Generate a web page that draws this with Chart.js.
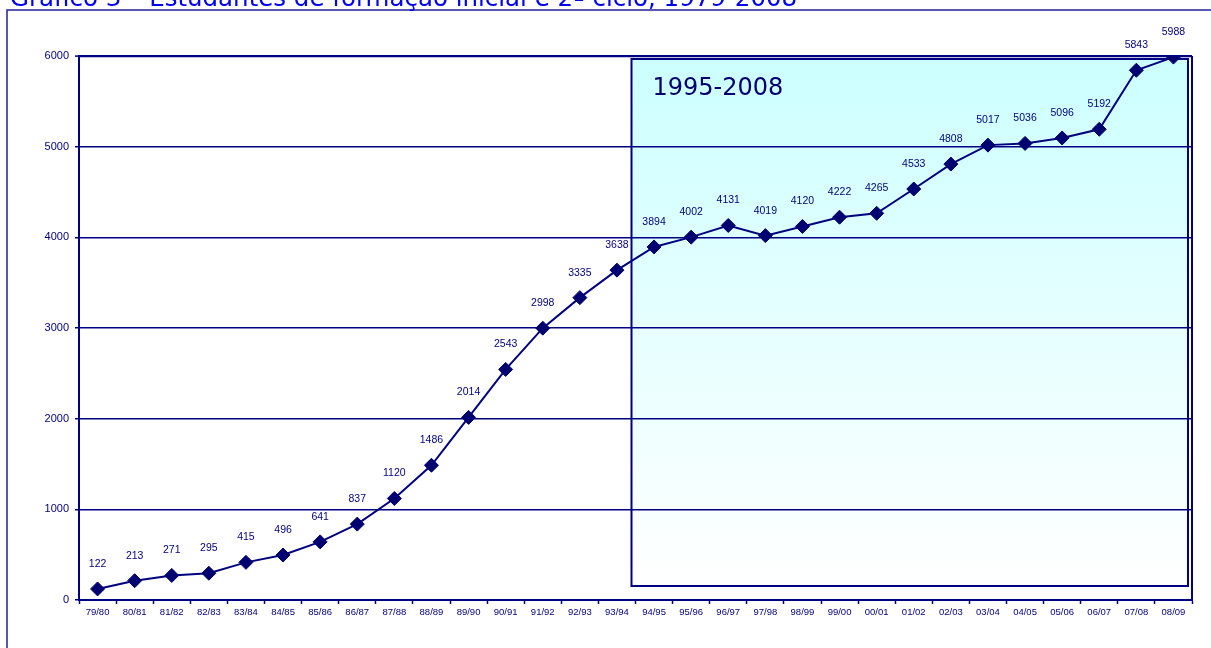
<!DOCTYPE html>
<html lang="pt">
<head>
<meta charset="utf-8">
<title>Gráfico 3</title>
<script src="https://cdn.jsdelivr.net/npm/chart.js@4.4.1/dist/chart.umd.min.js"></script>
<style>
  html, body { margin: 0; padding: 0; background: #ffffff; }
  canvas { display: block; }
</style>
</head>
<body>
<canvas id="grafico" width="1211" height="648"></canvas>
<script>
// anos lectivos
const anos = [
    "79/80", "80/81", "81/82", "82/83", "83/84", "84/85", "85/86", "86/87",
    "87/88", "88/89", "89/90", "90/91", "91/92", "92/93", "93/94", "94/95",
    "95/96", "96/97", "97/98", "98/99", "99/00", "00/01", "01/02", "02/03",
    "03/04", "04/05", "05/06", "06/07", "07/08", "08/09",
];

// número de estudantes
const estudantes = [
    122, 213, 271, 295, 415, 496, 641, 837,
    1120, 1486, 2014, 2543, 2998, 3335, 3638, 3894,
    4002, 4131, 4019, 4120, 4222, 4265, 4533, 4808,
    5017, 5036, 5096, 5192, 5843, 5988,
];

// escala vertical
const eixoMin = 0;
const eixoMax = 6000;
const eixoPasso = 1000;

// período destacado (primeiro ano dentro da caixa)
const periodoInicio = "94/95";
const periodoTexto = "1995-2008";

const titulo = "Gráfico 3 – Estudantes de formação inicial e 2º ciclo, 1979-2008";

const azulEscuro = "#000080";

// moldura, título e caixa do período por trás das linhas
const fundo = {
    id: "fundo",
    beforeDraw(chart) {
        const { ctx, chartArea, scales } = chart;
        ctx.save();

        // moldura exterior
        ctx.strokeStyle = "#22229a";
        ctx.lineWidth = 1.5;
        ctx.beginPath();
        ctx.moveTo(7, chart.height);
        ctx.lineTo(7, 10);
        ctx.lineTo(chart.width, 10);
        ctx.stroke();

        // título (cortado no topo)
        ctx.fillStyle = "#0000ee";
        ctx.font = "24.5px 'DejaVu Sans'";
        ctx.textBaseline = "alphabetic";
        ctx.textAlign = "left";
        ctx.fillText(titulo, 10, 6);

        // caixa do período 1995-2008
        const idx = anos.indexOf(periodoInicio);
        const x0 = scales.x.getPixelForValue(idx - 0.5) - 4;
        const x1 = chartArea.right - 4;
        const y0 = chartArea.top + 3;
        const y1 = chartArea.bottom - 14;
        const grad = ctx.createLinearGradient(0, y0, 0, y1);
        grad.addColorStop(0, "#ccffff");
        grad.addColorStop(1, "#ffffff");
        ctx.fillStyle = grad;
        ctx.fillRect(x0, y0, x1 - x0, y1 - y0);
        ctx.strokeStyle = azulEscuro;
        ctx.lineWidth = 2;
        ctx.strokeRect(x0, y0, x1 - x0, y1 - y0);

        ctx.fillStyle = "#000070";
        ctx.font = "24px 'DejaVu Sans'";
        ctx.fillText(periodoTexto, x0 + 21, y0 + 36);
        ctx.restore();
    },
    afterDraw(chart) {
        const { ctx, chartArea } = chart;
        ctx.save();
        // lado direito da área do gráfico
        ctx.strokeStyle = azulEscuro;
        ctx.lineWidth = 2;
        ctx.beginPath();
        ctx.moveTo(chartArea.right, chartArea.top);
        ctx.lineTo(chartArea.right, chartArea.bottom);
        ctx.stroke();
        ctx.restore();
    },
};

// valores por cima de cada ponto
const rotulos = {
    id: "rotulos",
    afterDatasetsDraw(chart) {
        const { ctx } = chart;
        const meta = chart.getDatasetMeta(0);
        ctx.save();
        ctx.fillStyle = azulEscuro;
        ctx.font = "10.5px 'Liberation Sans'";
        ctx.textAlign = "center";
        ctx.textBaseline = "middle";
        meta.data.forEach((pt, i) => {
            ctx.fillText(String(estudantes[i]), pt.x, pt.y - 25);
        });
        ctx.restore();
    },
};

new Chart(document.getElementById("grafico"), {
    type: "line",
    plugins: [fundo, rotulos],
    data: {
        labels: anos,
        datasets: [
            {
                data: estudantes,
                borderColor: azulEscuro,
                borderWidth: 2,
                tension: 0,
                pointStyle: "rectRot",
                pointRadius: 7,
                pointBorderWidth: 1,
                pointBackgroundColor: "#000070",
                pointBorderColor: "#000070",
            },
        ],
    },
    options: {
        responsive: false,
        animation: false,
        layout: { padding: { top: 56, right: 19, left: 0, bottom: 0 } },
        plugins: {
            legend: { display: false },
            tooltip: { enabled: false },
        },
        scales: {
            x: {
                offset: true,
                afterFit: (s) => { s.height = 48; },
                grid: {
                    offset: true,
                    drawOnChartArea: false,
                    color: azulEscuro,
                    tickLength: 4,
                    tickWidth: 1.5,
                },
                border: { color: azulEscuro, width: 2 },
                ticks: {
                    color: azulEscuro,
                    font: { family: "Liberation Sans", size: 9.5 },
                    padding: 3,
                    maxRotation: 0,
                    autoSkip: false,
                },
            },
            y: {
                min: eixoMin,
                max: eixoMax,
                afterFit: (s) => { s.width = 79; },
                grid: {
                    color: azulEscuro,
                    lineWidth: (c) => (c.tick && c.tick.value === eixoMax ? 2.2 : 1.5),
                    tickLength: 4,
                    tickWidth: 1.5,
                },
                border: { color: azulEscuro, width: 2 },
                ticks: {
                    stepSize: eixoPasso,
                    color: azulEscuro,
                    font: { family: "Liberation Sans", size: 11 },
                    padding: 6,
                    callback: (v) => String(v),
                },
            },
        },
    },
});
</script>
</body>
</html>
